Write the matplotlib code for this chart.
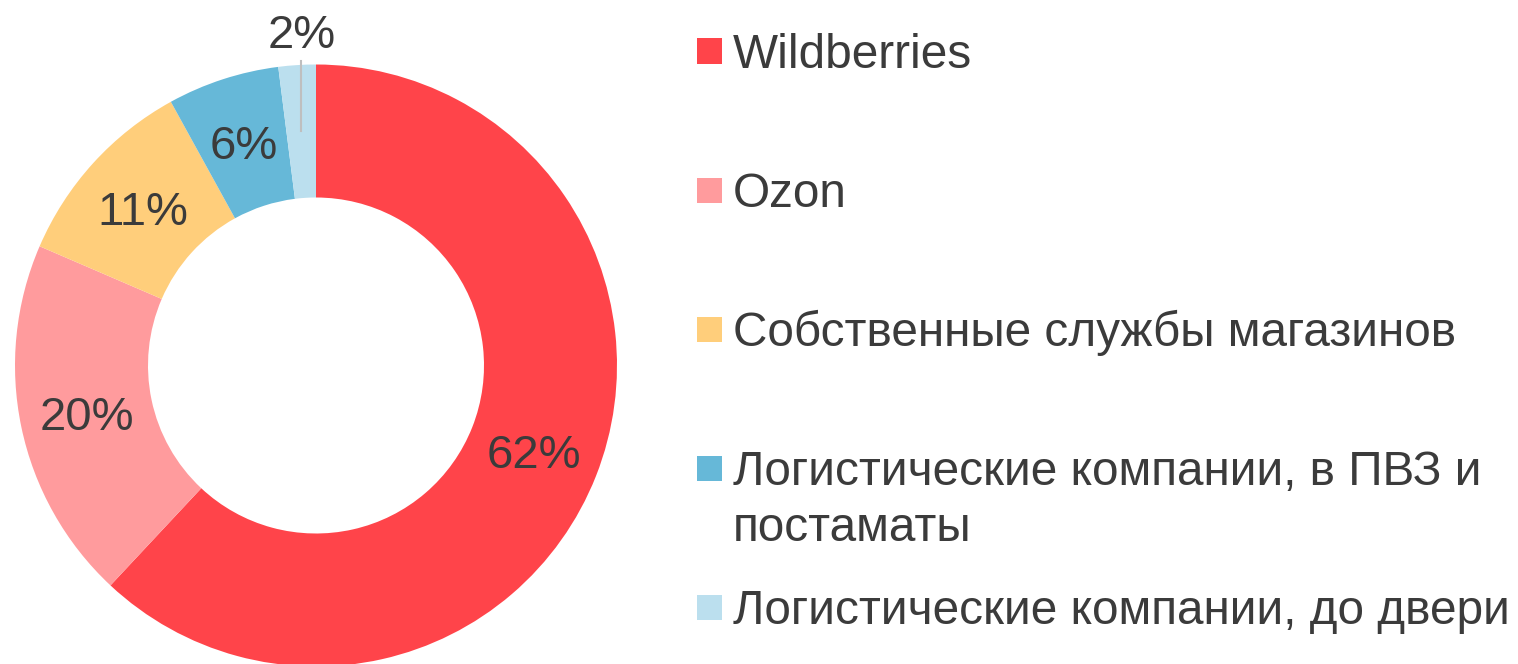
import matplotlib
matplotlib.use("Agg")
import matplotlib.pyplot as plt
import numpy as np
from matplotlib.patches import Rectangle

# shares (angles), and the labels printed on the ring
categories = ["Wildberries",
              "Ozon",
              "Собственные службы магазинов",
              "Логистические компании, в ПВЗ и\nпостаматы",
              "Логистические компании, до двери"]
shares = [61.9, 19.5, 10.5, 6.0, 2.0]
pct_labels = ["62%", "20%", "11%", "6%", "2%"]
colors = ["#FF444A", "#FF9B9D", "#FFCE7B", "#66B8D8", "#BBDFEE"]

plt.rcParams['font.family'] = ['Liberation Sans', 'DejaVu Sans']
txt_color = "#3B3B3B"
fs = 34
leg_fs = 34.4

W, H = 1518, 664
fig = plt.figure(figsize=(W / 100, H / 100), dpi=100)

# donut: centre (316, 365.5) px from top-left, outer radius 301 px
cx, cy, R = 316, 365.5, 301
ax = fig.add_axes([(cx - R) / W, (H - cy - R) / H, 2 * R / W, 2 * R / H])
inner = 168.0 / R
ring_w = 1 - inner
wedges, _ = ax.pie(shares, colors=colors, startangle=90, counterclock=False,
                   radius=1, wedgeprops=dict(width=ring_w, linewidth=0))
ax.set_xlim(-1, 1)
ax.set_ylim(-1, 1)
ax.set_aspect('equal')
ax.axis('off')

r_mid = 1 - ring_w / 2
half_cap = fs * 0.716 / 2
for i, w in enumerate(wedges):
    ang = np.deg2rad((w.theta1 + w.theta2) / 2)
    x, y = r_mid * np.cos(ang), r_mid * np.sin(ang)
    if i == len(wedges) - 1:
        # small slice: label outside with a vertical leader line
        ax.plot([x, x], [y, 1.01], color="#BFBFBF", lw=1.5, clip_on=False)
        ax.annotate(pct_labels[i], xy=(x, 1.11), xytext=(0, -half_cap),
                    textcoords='offset points', ha='center', va='baseline',
                    fontsize=fs, color=txt_color, annotation_clip=False)
    else:
        ax.annotate(pct_labels[i], xy=(x, y), xytext=(0, -half_cap),
                    textcoords='offset points', ha='center', va='baseline',
                    fontsize=fs, color=txt_color)

# legend drawn by hand (marker lines up with the first text line)
box = 25
line_step = 56.5
for i, (lab, c) in enumerate(zip(categories, colors)):
    yc = 51 + i * 139.1
    fig.patches.append(Rectangle((697 / W, (H - yc - box / 2) / H), box / W, box / H,
                                 transform=fig.transFigure, facecolor=c,
                                 edgecolor='none'))
    for k, line in enumerate(lab.split("\n")):
        fig.text(733 / W, (H - yc - 16.5 - k * line_step) / H, line,
                 fontsize=leg_fs, color=txt_color, ha='left', va='baseline')

fig.savefig("out.png", dpi=100)
